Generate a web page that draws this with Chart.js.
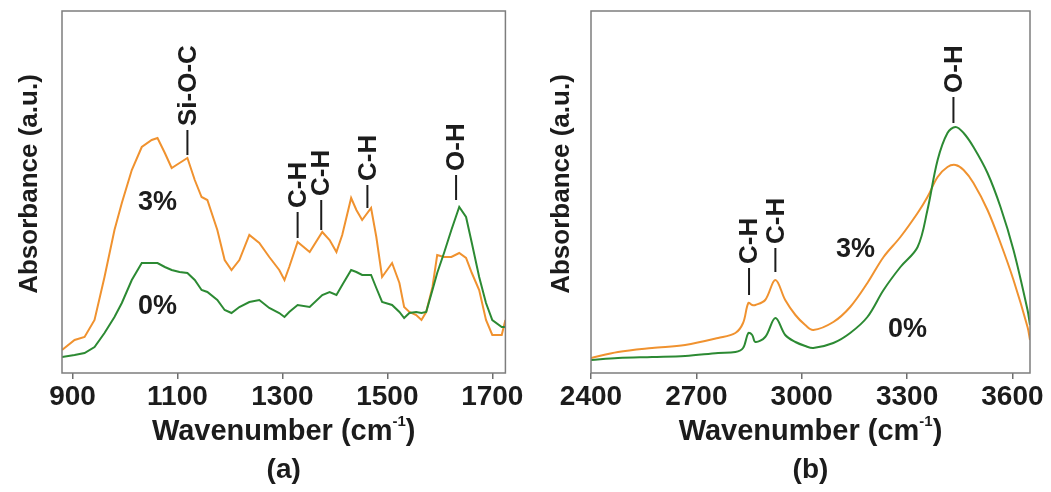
<!DOCTYPE html>
<html><head><meta charset="utf-8">
<script src="https://cdn.jsdelivr.net/npm/chart.js@4.4.1/dist/chart.umd.min.js"></script>
<style>
html,body{margin:0;padding:0;background:#fff;}
#wrap{position:relative;width:1051px;height:492px;overflow:hidden;}
.box{position:absolute;top:0;height:492px;}
canvas{display:block;}
</style></head><body>
<div id="wrap">
<div class="box" style="left:0;width:525px"><canvas id="ca" width="525" height="492"></canvas></div>
<div class="box" style="left:525px;width:526px"><canvas id="cb" width="526" height="492"></canvas></div>
</div>
<script>
// ---- Panel (a): 880–1725 cm-1 ----
const wnA = [880,904,923,942,961,980,994,1013,1032,1051,1062,1076,1089,1104,1119,1133,1146,1157,1176,1190,1203,1218,1237,1256,1275,1294,1304,1313,1329,1352,1376,1390,1403,1414,1431,1441,1452,1469,1479,1490,1509,1523,1532,1542,1555,1565,1574,1586,1595,1608,1622,1637,1650,1661,1675,1688,1700,1718,1725];
const pct3A = [0.23,0.33,0.36,0.53,0.96,1.43,1.70,2.03,2.26,2.33,2.35,2.20,2.05,2.10,2.15,1.93,1.76,1.73,1.43,1.13,1.03,1.13,1.38,1.30,1.16,1.03,0.93,1.06,1.31,1.21,1.41,1.33,1.21,1.38,1.75,1.63,1.53,1.65,1.36,0.96,1.10,0.90,0.66,0.61,0.58,0.53,0.61,0.86,1.18,1.16,1.16,1.20,1.15,1.00,0.83,0.53,0.38,0.38,0.53];
const pct0A = [0.16,0.18,0.20,0.26,0.40,0.56,0.70,0.93,1.10,1.10,1.10,1.06,1.03,1.01,1.00,0.93,0.83,0.81,0.73,0.63,0.60,0.66,0.71,0.73,0.65,0.60,0.56,0.61,0.68,0.66,0.78,0.81,0.78,0.88,1.03,1.01,0.98,0.98,0.85,0.71,0.68,0.61,0.55,0.60,0.61,0.60,0.61,0.83,1.00,1.20,1.43,1.66,1.56,1.30,0.96,0.70,0.53,0.46,0.46];
const xTicksA = [900,1100,1300,1500,1700];
const annLabelA = ['Si-O-C','C-H','C-H','C-H','O-H'];
const annWnA = [1119,1329,1374,1462,1631];
const annLowA = [2.18,1.35,1.43,1.65,1.73];
const annHighA = [2.43,1.61,1.73,1.88,1.98];
const seriesLabelA = ['3%','0%'];
const seriesLabelWnA = [1062,1062];
const seriesLabelYA = [1.70,0.66];

// ---- Panel (b): 2400–3650 cm-1 ----
const wnB = [2400,2477,2574,2668,2762,2811,2833,2848,2859,2868,2896,2925,2953,2982,3010,3033,3090,3138,3187,3233,3281,3330,3358,3387,3415,3438,3461,3489,3529,3566,3603,3643,3650];
const pct3B = [0.15,0.21,0.25,0.28,0.35,0.40,0.50,0.70,0.68,0.68,0.73,0.93,0.73,0.58,0.48,0.43,0.51,0.66,0.90,1.16,1.36,1.60,1.76,1.96,2.06,2.08,2.03,1.90,1.63,1.30,0.93,0.46,0.33];
const pct0B = [0.13,0.15,0.16,0.17,0.20,0.21,0.25,0.40,0.38,0.31,0.36,0.55,0.38,0.31,0.27,0.25,0.30,0.40,0.56,0.83,1.06,1.26,1.63,2.13,2.40,2.46,2.40,2.26,2.00,1.66,1.23,0.63,0.48];
const xTicksB = [2400,2700,3000,3300,3600];
const annLabelB = ['C-H','C-H','O-H'];
const annWnB = [2850,2925,3432];
const annLowB = [0.78,1.01,2.50];
const annHighB = [1.05,1.25,2.76];
const seriesLabelB = ['3%','0%'];
const seriesLabelWnB = [3153,3301];
const seriesLabelYB = [1.23,0.43];

const FONT = '"Liberation Sans", Arial, Helvetica, sans-serif';
const ORANGE = '#F0922F';
const GREEN = '#2C8A33';
const INK = '#1c1c1c';

function decor(opt){
  return {
    id: 'decor',
    afterDraw(chart){
      const {ctx, chartArea: a, scales: {x, y}} = chart;
      ctx.save();
      // frame
      ctx.strokeStyle = '#7d7d7d'; ctx.lineWidth = 1.5;
      ctx.strokeRect(a.left, a.top, a.right - a.left, a.bottom - a.top);
      ctx.fillStyle = INK; ctx.strokeStyle = INK;
      // peak annotations
      opt.labels.forEach((lab, i) => {
        const px = x.getPixelForValue(opt.wn[i]);
        const y0 = y.getPixelForValue(opt.low[i]);
        const y1 = y.getPixelForValue(opt.high[i]);
        ctx.lineWidth = 2;
        ctx.beginPath(); ctx.moveTo(px, y0); ctx.lineTo(px, y1); ctx.stroke();
        ctx.save();
        ctx.translate(px + 1, y1 - 4);
        ctx.rotate(-Math.PI / 2);
        ctx.font = 'bold 26px ' + FONT;
        ctx.textAlign = 'left'; ctx.textBaseline = 'middle';
        ctx.fillText(lab, 0, 0);
        ctx.restore();
      });
      // series labels
      ctx.font = 'bold 27px ' + FONT;
      ctx.textAlign = 'center'; ctx.textBaseline = 'middle';
      opt.sLabels.forEach((lab, i) => {
        ctx.fillText(lab, x.getPixelForValue(opt.sWn[i]), y.getPixelForValue(opt.sY[i]));
      });
      // x title with superscript
      const cx = (a.left + a.right) / 2;
      const main = 'Wavenumber (cm', sup = '-1', close = ')';
      ctx.font = 'bold 29px ' + FONT;
      const w1 = ctx.measureText(main).width, w3 = ctx.measureText(close).width;
      ctx.font = 'bold 15px ' + FONT;
      const w2 = ctx.measureText(sup).width;
      let sx = cx - (w1 + w2 + w3) / 2;
      ctx.textAlign = 'left';
      ctx.font = 'bold 29px ' + FONT;
      ctx.fillText(main, sx, 432);
      ctx.font = 'bold 15px ' + FONT;
      ctx.fillText(sup, sx + w1, 422);
      ctx.font = 'bold 29px ' + FONT;
      ctx.fillText(close, sx + w1 + w2, 432);
      // panel letter
      ctx.textAlign = 'center';
      ctx.font = 'bold 28px ' + FONT;
      ctx.fillText(opt.panel, cx, 470);
      // y title
      ctx.save();
      ctx.translate(opt.yTitleX, 184);
      ctx.rotate(-Math.PI / 2);
      ctx.font = 'bold 26px ' + FONT;
      ctx.textAlign = 'center'; ctx.textBaseline = 'middle';
      ctx.fillText('Absorbance (a.u.)', 0, 0);
      ctx.restore();
      ctx.restore();
    }
  };
}

function makeChart(id, wn, s3, s0, ticks, min, max, pad, smooth, opt){
  return new Chart(document.getElementById(id), {
    type: 'line',
    data: {
      datasets: [
        {label: '0%', data: wn.map((w, i) => ({x: w, y: s0[i]})), borderColor: GREEN, borderWidth: 2,
         pointRadius: 0, fill: false, tension: smooth ? 0.35 : 0},
        {label: '3%', data: wn.map((w, i) => ({x: w, y: s3[i]})), borderColor: ORANGE, borderWidth: 2,
         pointRadius: 0, fill: false, tension: smooth ? 0.35 : 0}
      ]
    },
    options: {
      responsive: false, animation: false, events: [],
      layout: {padding: pad},
      plugins: {legend: {display: false}, tooltip: {enabled: false}},
      scales: {
        x: {
          type: 'linear', min: min, max: max,
          afterFit(s){ s.height = 119; },
          afterBuildTicks(s){ s.ticks = ticks.map(v => ({value: v})); },
          border: {display: false},
          grid: {display: true, drawOnChartArea: false, drawTicks: true, tickLength: 6, color: '#6e6e6e', lineWidth: 1.5},
          ticks: {padding: 1, color: INK, font: {family: FONT, size: 28, weight: 'bold'}, maxRotation: 0, autoSkip: false,
                  callback: v => String(v)}
        },
        y: {display: false, min: 0, max: 3.62}
      }
    },
    plugins: [decor(opt)]
  });
}

makeChart('ca', wnA, pct3A, pct0A, xTicksA, 880, 1725, {left: 62, top: 11, right: 19, bottom: 0}, false,
  {labels: annLabelA, wn: annWnA, low: annLowA, high: annHighA, sLabels: seriesLabelA, sWn: seriesLabelWnA, sY: seriesLabelYA, panel: '(a)', yTitleX: 30});
makeChart('cb', wnB, pct3B, pct0B, xTicksB, 2400, 3650, {left: 66, top: 11, right: 21, bottom: 0}, true,
  {labels: annLabelB, wn: annWnB, low: annLowB, high: annHighB, sLabels: seriesLabelB, sWn: seriesLabelWnB, sY: seriesLabelYB, panel: '(b)', yTitleX: 37});
</script>
</body></html>
